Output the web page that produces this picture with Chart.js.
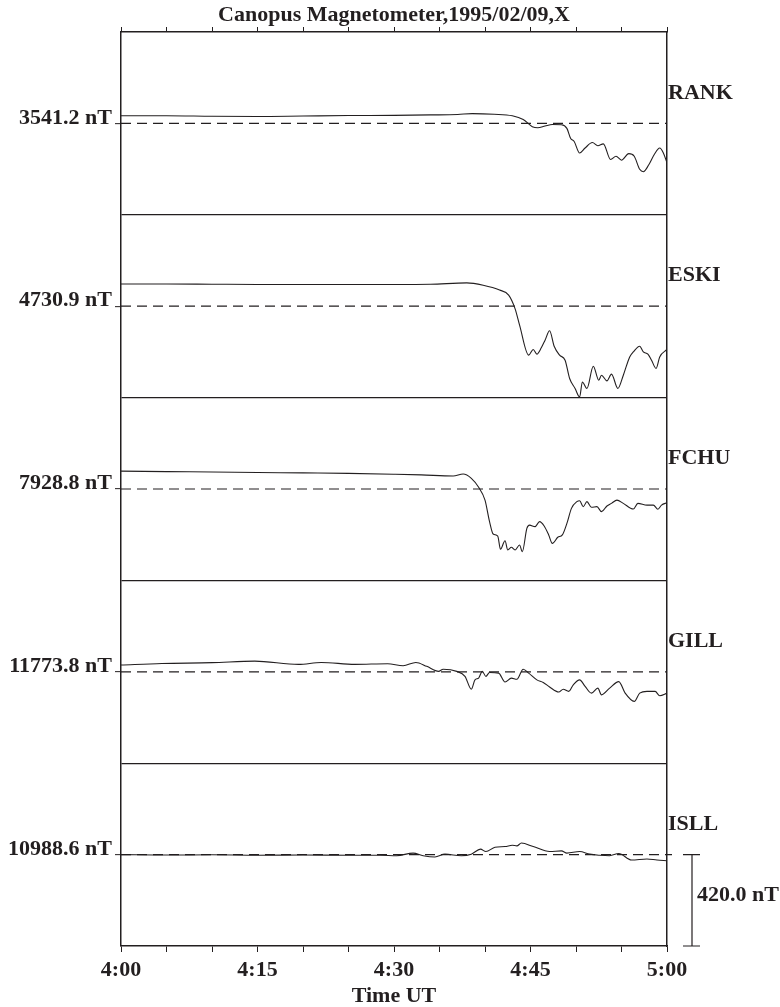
<!DOCTYPE html>
<html>
<head>
<meta charset="utf-8">
<script src="https://cdn.jsdelivr.net/npm/chart.js@4.4.0/dist/chart.umd.min.js"></script>
<style>
html, body { margin: 0; padding: 0; background: #fff; }
#wrap { width: 780px; height: 1007px; }
</style>
</head>
<body>
<div id="wrap"><canvas id="magChart"></canvas></div>
<script>
// stations, top to bottom
const stations = ['RANK', 'ESKI', 'FCHU', 'GILL', 'ISLL'];
const baselineLabels = ['3541.2 nT', '4730.9 nT', '7928.8 nT', '11773.8 nT', '10988.6 nT'];
const timeLabels = ['4:00', '4:15', '4:30', '4:45', '5:00'];
const panelNT = 840;     // nT range of one panel
const scaleBarNT = 420;  // scale bar
const scaleBarLabel = '420.0 nT';

// minutes after 4:00 UT, deviation from baseline in nT
const rankTime = [0, 5, 10, 15, 20, 25, 30, 34, 37, 38.6, 41, 43, 44.2, 45.2, 45.8, 46.6, 47.4, 48.4, 49, 49.4, 49.8, 50.4, 51, 51.8, 52.4, 53, 53.8, 54.4, 55, 55.8, 56.4, 57, 57.4, 58, 58.6, 59.2, 59.6, 60];
const rankNT = [35, 35, 33, 32, 34, 36, 37, 39, 41, 45, 42, 35, 18, -15, -20, -12, -5, -6, -23, -68, -83, -136, -113, -88, -103, -94, -166, -151, -169, -139, -151, -211, -222, -190, -143, -113, -136, -181];

const eskiTime = [0, 5, 10, 15, 20, 25, 30, 34, 38.0, 39.8, 41.6, 42.6, 43.3, 43.8, 44.8, 45.3, 45.7, 46.2, 46.6, 47.1, 47.6, 48.2, 48.8, 49.3, 49.9, 50.4, 50.7, 51.2, 51.9, 52.5, 52.8, 53.4, 53.9, 54.6, 55.2, 55.9, 56.3, 57.0, 57.4, 57.9, 58.3, 58.8, 59.2, 60];
const eskiNT = [102, 102, 101, 100, 100, 100, 100, 101, 107, 96, 74, 51, -11, -87, -225, -199, -220, -190, -156, -113, -184, -225, -248, -332, -378, -417, -348, -378, -276, -340, -317, -343, -312, -378, -317, -233, -210, -184, -210, -220, -248, -286, -233, -199];

const fchuTime = [0, 5, 10, 15, 20, 25, 30, 33, 36.5, 37.6, 38.5, 39.3, 40.0, 40.5, 40.9, 41.4, 41.7, 42.2, 42.5, 42.9, 43.3, 43.8, 44.1, 44.6, 44.9, 45.5, 46.0, 46.5, 47.0, 47.4, 48.0, 48.5, 49.0, 49.5, 50.1, 50.4, 50.8, 51.2, 51.7, 52.3, 52.8, 53.4, 53.9, 54.5, 55.2, 56.3, 56.8, 57.8, 58.5, 59.0, 59.4, 60];
const fchuNT = [82, 80, 78, 76, 74, 72, 68, 65, 60, 69, 49, 8, -51, -150, -207, -216, -277, -238, -280, -268, -280, -257, -288, -181, -166, -173, -150, -170, -211, -250, -222, -211, -158, -89, -58, -54, -81, -58, -84, -81, -104, -78, -66, -51, -66, -92, -66, -74, -74, -93, -74, -63];

const gillTime = [0, 4.5, 10, 14.7, 19.5, 22, 25.7, 29.3, 31.0, 32.4, 33.6, 34.9, 35.4, 36.9, 37.8, 38.5, 38.9, 39.3, 39.7, 40.1, 40.5, 41.5, 42.2, 42.9, 43.5, 44.2, 44.8, 45.7, 46.4, 47.1, 48.1, 48.6, 49.2, 49.7, 50.4, 51.0, 51.7, 52.4, 52.8, 53.7, 54.7, 55.4, 56.4, 57.0, 57.8, 58.7, 59.2, 60];
const gillNT = [31, 38, 42, 49, 34, 43, 34, 37, 28, 43, 25, 2, 12, 2, -21, -80, -37, -29, 2, -21, -3, -6, -47, -29, -34, 12, -6, -37, -49, -70, -93, -80, -90, -60, -37, -67, -98, -75, -106, -75, -45, -98, -136, -98, -90, -90, -110, -98];

const isllTime = [0, 5, 10, 15, 20, 25, 28.5, 30.3, 32.1, 33.2, 34.5, 35.6, 37.4, 38.5, 39.5, 40.1, 41.1, 42.2, 43.0, 43.5, 44.0, 45.3, 47.1, 48.4, 49.0, 50.4, 51.5, 52.6, 53.7, 54.7, 56.1, 57.8, 58.9, 60];
const isllNT = [0, -2, -1, -3, -2, -3, -3, -5, 7, -5, -11, 2, -5, 2, 25, 14, 34, 37, 43, 40, 53, 37, 14, 17, 7, 14, 2, -3, -5, 5, -25, -20, -25, -28];

const traceTimes = [rankTime, eskiTime, fchuTime, gillTime, isllTime];
const traceValues = [rankNT, eskiNT, fchuNT, gillNT, isllNT];

// panel i is centred on its baseline, panels stacked on one y scale
const halfRange = stations.length * panelNT / 2;
const centers = stations.map((s, i) => halfRange - panelNT / 2 - i * panelNT);
const separators = centers.slice(0, -1).map(c => c - panelNT / 2);

const ink = '#231f20';
const serif = "'Liberation Serif', 'Times New Roman', serif";
const fontBold = { family: serif, size: 22, weight: 'bold' };

const datasets = [];
stations.forEach((name, i) => {
    datasets.push({
        label: name,
        data: traceTimes[i].map((t, k) => ({ x: t, y: traceValues[i][k] + centers[i] })),
        borderColor: ink,
        borderWidth: 1.1,
        pointRadius: 0,
        cubicInterpolationMode: 'monotone'
    });
    datasets.push({
        label: name + ' baseline',
        data: [{ x: 0, y: centers[i] }, { x: 60, y: centers[i] }],
        borderColor: ink,
        borderWidth: 1.2,
        borderDash: [10, 6],
        pointRadius: 0
    });
});

// scale bar next to the bottom panel
const scaleBarPlugin = {
    id: 'scaleBar',
    afterDraw(chart) {
        const c = chart.ctx;
        const yS = chart.scales.y;
        const area = chart.chartArea;
        const last = centers[centers.length - 1];
        const y0 = yS.getPixelForValue(last);
        const y1 = yS.getPixelForValue(last - scaleBarNT);
        const bx = area.right + 25;
        c.save();
        c.strokeStyle = ink;
        c.lineWidth = 1.2;
        c.beginPath();
        c.moveTo(area.right, y0); c.lineTo(area.right + 5, y0);
        c.moveTo(bx - 9, y0); c.lineTo(bx + 8, y0);
        c.moveTo(bx, y0); c.lineTo(bx, y1);
        c.moveTo(bx - 9, y1); c.lineTo(bx + 8, y1);
        c.stroke();
        c.fillStyle = ink;
        c.font = 'bold 22px ' + serif;
        c.textAlign = 'left';
        c.textBaseline = 'middle';
        c.fillText(scaleBarLabel, bx + 5, (y0 + y1) / 2 - 5);
        c.restore();
    }
};

const ctx = document.getElementById('magChart');
new Chart(ctx, {
    type: 'line',
    data: { datasets: datasets },
    options: {
        responsive: true,
        maintainAspectRatio: false,
        animation: false,
        layout: { padding: 0 },
        plugins: {
            legend: { display: false },
            tooltip: { enabled: false }
        },
        scales: {
            x: {
                type: 'linear',
                position: 'bottom',
                min: 0,
                max: 60,
                afterBuildTicks: s => { s.ticks = [0, 5, 10, 15, 20, 25, 30, 35, 40, 45, 50, 55, 60].map(v => ({ value: v })); },
                ticks: {
                    autoSkip: false,
                    maxRotation: 0,
                    padding: 5,
                    color: ink,
                    font: fontBold,
                    callback: v => (v % 15 === 0 ? timeLabels[v / 15] : '')
                },
                grid: { drawOnChartArea: false, drawTicks: true, tickLength: 6, color: ink, lineWidth: 1 },
                border: { color: ink, width: 1.5 },
                title: { display: true, text: 'Time UT', color: ink, font: { family: serif, size: 22, weight: 'bold', lineHeight: 1 }, padding: { top: 0, bottom: 0 } },
                afterFit: s => { s.height = 61; }
            },
            xTop: {
                type: 'linear',
                position: 'top',
                min: 0,
                max: 60,
                afterBuildTicks: s => { s.ticks = [0, 5, 10, 15, 20, 25, 30, 35, 40, 45, 50, 55, 60].map(v => ({ value: v })); },
                ticks: { display: false },
                grid: { drawOnChartArea: false, drawTicks: true, tickLength: 5, color: ink, lineWidth: 1 },
                border: { color: ink, width: 1.5 },
                title: { display: true, text: 'Canopus Magnetometer,1995/02/09,X', color: ink, font: fontBold, padding: { top: 2, bottom: 0 } },
                afterFit: s => { s.height = 32; }
            },
            y: {
                type: 'linear',
                position: 'left',
                min: -halfRange,
                max: halfRange,
                afterBuildTicks: s => { s.ticks = centers.concat(separators).map(v => ({ value: v })); },
                ticks: {
                    padding: 3,
                    color: ink,
                    font: { family: serif, size: 22, weight: 'bold', lineHeight: 0.5 },
                    callback: v => {
                        const i = centers.indexOf(v);
                        // second empty line lifts the label a little above its tick
                        return i >= 0 ? [baselineLabels[i], ''] : '';
                    }
                },
                grid: {
                    drawTicks: true,
                    tickLength: 6,
                    lineWidth: 1.3,
                    color: c => (c.tick && centers.indexOf(c.tick.value) >= 0 ? 'rgba(0,0,0,0)' : ink),
                    tickColor: c => (c.tick && centers.indexOf(c.tick.value) >= 0 ? ink : 'rgba(0,0,0,0)'),
                    tickWidth: 1
                },
                border: { color: ink, width: 1.5 },
                afterFit: s => { s.width = 121; }
            },
            yRight: {
                type: 'linear',
                position: 'right',
                min: -halfRange,
                max: halfRange,
                afterBuildTicks: s => { s.ticks = centers.map(v => ({ value: v + 140 })); },
                ticks: {
                    padding: 1,
                    color: ink,
                    font: fontBold,
                    callback: (v, i) => stations[i]
                },
                grid: { drawOnChartArea: false, drawTicks: false },
                border: { color: ink, width: 1.5 },
                afterFit: s => { s.width = 113; }
            }
        }
    },
    plugins: [scaleBarPlugin]
});
</script>
</body>
</html>
